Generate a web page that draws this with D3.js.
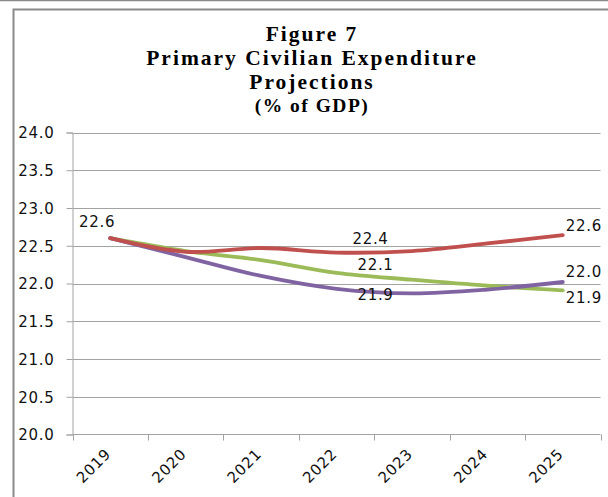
<!DOCTYPE html>
<html>
<head>
<meta charset="utf-8">
<script src="https://cdn.jsdelivr.net/npm/d3@7/dist/d3.min.js"></script>
<style>
  html, body { margin: 0; padding: 0; background: #fff; }
  svg { display: block; }
  .tick-label, .value-label, .year-label { font-family: "DejaVu Sans", Verdana, sans-serif; font-size: 15px; fill: #111; letter-spacing: 0.7px; }
  .title { font-family: "Liberation Serif", "Times New Roman", serif; font-weight: bold; fill: #000; }
</style>
</head>
<body>
<script>
// Primary civilian expenditure, % of GDP
const years = ["2019", "2020", "2021", "2022", "2023", "2024", "2025"];
const redSeries    = [22.60, 22.42, 22.47, 22.41, 22.43, 22.53, 22.64];
const greenSeries  = [22.60, 22.43, 22.31, 22.14, 22.05, 21.97, 21.91];
const purpleSeries = [22.60, 22.35, 22.10, 21.93, 21.87, 21.92, 22.02];
const yTicks = [20.0, 20.5, 21.0, 21.5, 22.0, 22.5, 23.0, 23.5, 24.0];
const titleLines = ["Figure 7", "Primary Civilian Expenditure", "Projections", "(% of GDP)"];

const W = 608, H = 497;
const svg = d3.select("body").append("svg").attr("width", W).attr("height", H);

// outer frame
svg.append("line").attr("x1", 0).attr("x2", W).attr("y1", 0.5).attr("y2", 0.5)
  .attr("stroke", "#8a8a8a").attr("stroke-width", 1.5);
svg.append("path").attr("d", `M13.5,${H} V9.5 H${W}`)
  .attr("fill", "none").attr("stroke", "#8a8a8a").attr("stroke-width", 2);

// title block
const titleSpec = [
  { y: 41, size: 21.5, ls: 2 },
  { y: 65, size: 21.5, ls: 2 },
  { y: 89, size: 21.5, ls: 2 },
  { y: 112, size: 19.5, ls: 1.5 }
];
titleLines.forEach((t, i) => {
  svg.append("text").attr("class", "title")
    .attr("x", 312).attr("y", titleSpec[i].y)
    .attr("text-anchor", "middle")
    .attr("font-size", titleSpec[i].size)
    .style("letter-spacing", titleSpec[i].ls + "px")
    .text(t);
});

// plot area
const plotL = 72.5, plotR = 600.5, plotT = 132.5, plotB = 434.5;
const x = d3.scaleBand().domain(years).range([plotL, plotR]);
const xc = d => x(d) + x.bandwidth() / 2;
const y = d3.scaleLinear().domain([20, 24]).range([plotB, plotT]);

const gridColor = "#a3a3a3";

// horizontal gridlines
svg.append("g").selectAll("line").data(yTicks.filter(v => v > 20)).join("line")
  .attr("x1", plotL).attr("x2", plotR)
  .attr("y1", d => Math.round(y(d)) + 0.5).attr("y2", d => Math.round(y(d)) + 0.5)
  .attr("stroke", gridColor).attr("stroke-width", 1);

// y axis
const yAxis = d3.axisLeft(y).tickValues(yTicks).tickSize(6).tickPadding(0).tickFormat(d3.format(".1f"));
const gy = svg.append("g").attr("transform", `translate(${plotL},0)`).call(yAxis);
gy.attr("font-family", null).attr("font-size", null);
gy.select(".domain").attr("stroke", gridColor);
gy.selectAll(".tick line").attr("stroke", gridColor);
gy.selectAll(".tick text").attr("class", "tick-label")
  .attr("x", -18).attr("dy", "0.36em").attr("text-anchor", "end").attr("fill", null);

// x axis: baseline plus boundary ticks between categories
svg.append("line").attr("x1", plotL).attr("x2", plotR).attr("y1", plotB).attr("y2", plotB)
  .attr("stroke", gridColor);
const boundaries = years.map(d => x(d)).concat([x.range()[1]]);
svg.append("g").selectAll("line").data(boundaries).join("line")
  .attr("x1", d => Math.round(d) + 0.5).attr("x2", d => Math.round(d) + 0.5)
  .attr("y1", plotB).attr("y2", plotB + 6)
  .attr("stroke", gridColor);

// rotated year labels
svg.append("g").selectAll("text").data(years).join("text")
  .attr("class", "year-label")
  .attr("text-anchor", "end")
  .attr("transform", d => `translate(${xc(d) + 1.5},455) rotate(-45)`)
  .text(d => d);

// series lines (smoothed)
const series = [
  { name: "green",  values: greenSeries,  color: "#9BBB59" },
  { name: "purple", values: purpleSeries, color: "#8064A2" },
  { name: "red",    values: redSeries,    color: "#C0504D" }
];
const line = d3.line()
  .x((d, i) => xc(years[i]))
  .y(d => y(d))
  .curve(d3.curveCatmullRom.alpha(0.5));

svg.append("g").selectAll("path").data(series).join("path")
  .attr("d", s => line(s.values))
  .attr("fill", "none")
  .attr("stroke", s => s.color)
  .attr("stroke-width", 3.8)
  .attr("stroke-linecap", "round")
  .attr("stroke-linejoin", "round");

// data labels, offset from their points
const fmt = d3.format(".1f");
const labelSpec = [
  { s: redSeries,    i: 0, dx: -13, dy: -11 },
  { s: redSeries,    i: 3, dx: 34,  dy: -9 },
  { s: greenSeries,  i: 3, dx: 39,  dy: -3 },
  { s: purpleSeries, i: 3, dx: 39,  dy: 11 },
  { s: redSeries,    i: 6, dx: 21,  dy: -4.5 },
  { s: purpleSeries, i: 6, dx: 21,  dy: -5 },
  { s: greenSeries,  i: 6, dx: 21,  dy: 13 }
];
svg.append("g").selectAll("text").data(labelSpec).join("text")
  .attr("class", "value-label")
  .attr("text-anchor", "middle")
  .attr("x", d => xc(years[d.i]) + d.dx)
  .attr("y", d => y(d.s[d.i]) + d.dy)
  .text(d => fmt(d.s[d.i]));
</script>
</body>
</html>
